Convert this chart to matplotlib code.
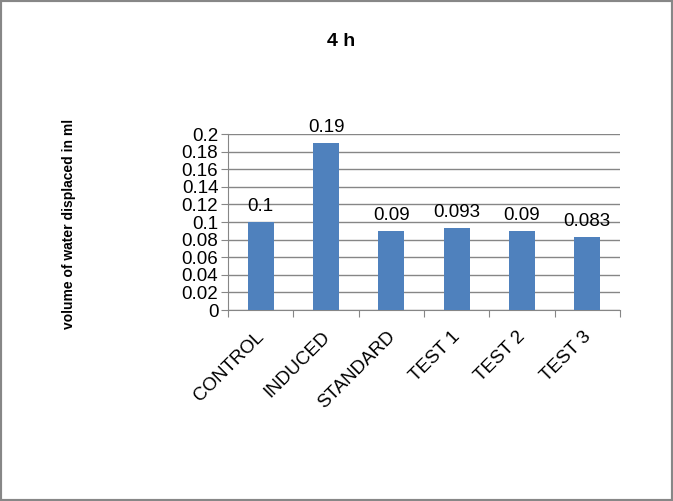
import numpy as np
import matplotlib.pyplot as plt
from matplotlib.patches import Rectangle

# chart data
groups = ['CONTROL', 'INDUCED', 'STANDARD', 'TEST 1', 'TEST 2', 'TEST 3']
volume = [0.1, 0.19, 0.09, 0.093, 0.09, 0.083]
value_labels = ['0.1', '0.19', '0.09', '0.093', '0.09', '0.083']
yticks = [0, 0.02, 0.04, 0.06, 0.08, 0.1, 0.12, 0.14, 0.16, 0.18, 0.2]

plt.rcParams['font.family'] = ['Liberation Sans', 'DejaVu Sans']
gray = '#868686'
fs = 13.5

fig = plt.figure(figsize=(6.73, 5.01), dpi=100)
ax = fig.add_axes([0.3388, 0.3812, 0.5824, 0.3513])

x = np.arange(len(groups))
ax.bar(x, volume, width=0.4, color='#4F81BD', zorder=3)
for xi, v, lab in zip(x, volume, value_labels):
    ax.annotate(lab, (xi, v), xytext=(0, 5), textcoords='offset points',
                ha='center', va='bottom', fontsize=fs)

ax.set_xlim(-0.5, len(groups) - 0.5)
ax.set_ylim(0, 0.2)
ax.set_yticks(yticks)
ax.set_yticklabels(['0' if t == 0 else ('%g' % t) for t in yticks], fontsize=fs)
ax.yaxis.grid(True, color=gray, linewidth=1, zorder=0)

# category boundaries as ticks, names centred between
ax.set_xticks(np.arange(len(groups) + 1) - 0.5)
ax.set_xticklabels([])
ax.set_xticks(x, minor=True)
ax.set_xticklabels(groups, minor=True, rotation=45, ha='right',
                   rotation_mode='anchor', fontsize=fs)
ax.tick_params(axis='x', which='minor', length=0, pad=13)
ax.tick_params(axis='x', which='major', length=5, color=gray)
ax.tick_params(axis='y', length=5, color=gray, pad=2)
for t in ax.get_xticklabels(minor=True):
    t.set_x(t.get_position()[0])
    t.set_transform(t.get_transform() + plt.matplotlib.transforms.ScaledTranslation(-5 / 100, 0, fig.dpi_scale_trans))

for s in ['top', 'right']:
    ax.spines[s].set_visible(False)
ax.spines['left'].set_color(gray)
ax.spines['bottom'].set_color(gray)

fig.text(0.507, 0.918, '4 h', ha='center', va='center', fontsize=14, fontweight='bold')
fig.text(0.103, 0.553, 'volume of water displaced in ml', rotation=90,
         ha='center', va='center', fontsize=10, fontweight='bold')

fig.patches.append(Rectangle((0, 0), 1, 1, transform=fig.transFigure,
                             fill=False, edgecolor='#878787', linewidth=3))

fig.savefig('out.png', dpi=100)
